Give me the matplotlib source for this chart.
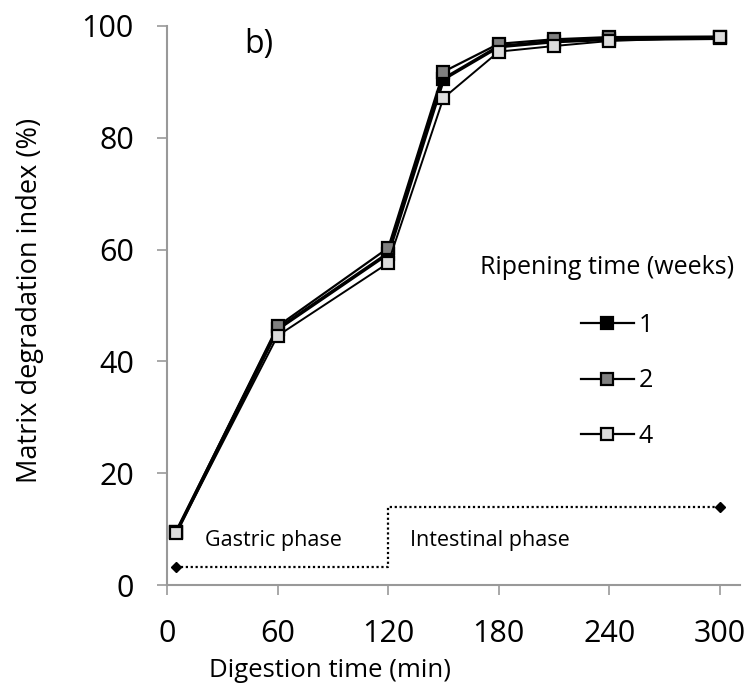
import matplotlib
matplotlib.use("Agg")
import matplotlib.pyplot as plt
from matplotlib.lines import Line2D

time_min = [5, 60, 120, 150, 180, 210, 240, 300]
week1 = [9.5, 45.8, 59.3, 90.5, 96.3, 97.2, 97.6, 97.8]
week2 = [9.6, 46.3, 60.3, 91.8, 96.8, 97.6, 98.0, 98.1]
week4 = [9.4, 44.6, 57.6, 87.1, 95.4, 96.4, 97.3, 98.0]
series_labels = ["1", "2", "4"]

phase_x = [5, 120, 120, 300]
phase_y = [3.2, 3.2, 14, 14]
xticks = [0, 60, 120, 180, 240, 300]
yticks = [0, 20, 40, 60, 80, 100]

plt.rcParams['font.family'] = ['Open Sans', 'DejaVu Sans']

fig = plt.figure(figsize=(7.46, 7.0), dpi=100)
ax = fig.add_axes([0.224, 0.164, 0.768, 0.799])

# phase line
ax.plot(phase_x, phase_y, color='black', linestyle=(0, (1, 1.2)), linewidth=1.6, zorder=2)
ax.plot([phase_x[0], phase_x[-1]], [phase_y[0], phase_y[-1]], linestyle='none',
        marker='D', markersize=5, color='black', zorder=3)
ax.text(20.5, 8, "Gastric phase", fontsize=15.5, va='center', ha='left')
ax.text(132, 8, "Intestinal phase", fontsize=15.5, va='center', ha='left')

styles = [
    (week1, 'black', 2.6),
    (week2, '#808080', 1.6),
    (week4, '#dcdcdc', 1.4),
]
handles = []
for (vals, fc, lw), lab in zip(styles, series_labels):
    ax.plot(time_min, vals, color='black', linewidth=lw, marker='s',
            markersize=9, markerfacecolor=fc, markeredgecolor='black',
            markeredgewidth=1.6, label=lab, zorder=4)
    handles.append(Line2D([0], [0], color='black', linewidth=1.6, marker='s',
                          markersize=9, markerfacecolor=fc, markeredgecolor='black',
                          markeredgewidth=1.6))

leg = ax.legend(handles, series_labels, loc='upper left', bbox_to_anchor=(0.705, 0.505),
                frameon=False, fontsize=18, handlelength=2.1, handletextpad=0.2,
                labelspacing=1.22, borderaxespad=0)
ax.text(0.99, 0.568, "Ripening time (weeks)", transform=ax.transAxes,
        fontsize=18, ha='right', va='center')

ax.text(42, 96.6, "b)", fontsize=23, ha='left', va='center')

ax.set_xlim(0, 311)
ax.set_ylim(0, 100)
ax.set_xticks(xticks)
ax.set_yticks(yticks)
ax.tick_params(axis='x', labelsize=22, direction='out', length=7, width=1.2,
               color='#999999', pad=17)
ax.tick_params(axis='y', labelsize=22, direction='out', length=7, width=1.2,
               color='#999999', pad=17)
for s in ['top', 'right']:
    ax.spines[s].set_visible(False)
for s in ['left', 'bottom']:
    ax.spines[s].set_color('#999999')
    ax.spines[s].set_linewidth(1.5)

ax.set_xlabel("Digestion time (min)", fontsize=18.5)
ax.set_ylabel("Matrix degradation index (%)", fontsize=19.5)
ax.xaxis.set_label_coords(0.284, -0.13)
ax.yaxis.set_label_coords(-0.215, 0.51)

fig.savefig("out.png", dpi=100)
